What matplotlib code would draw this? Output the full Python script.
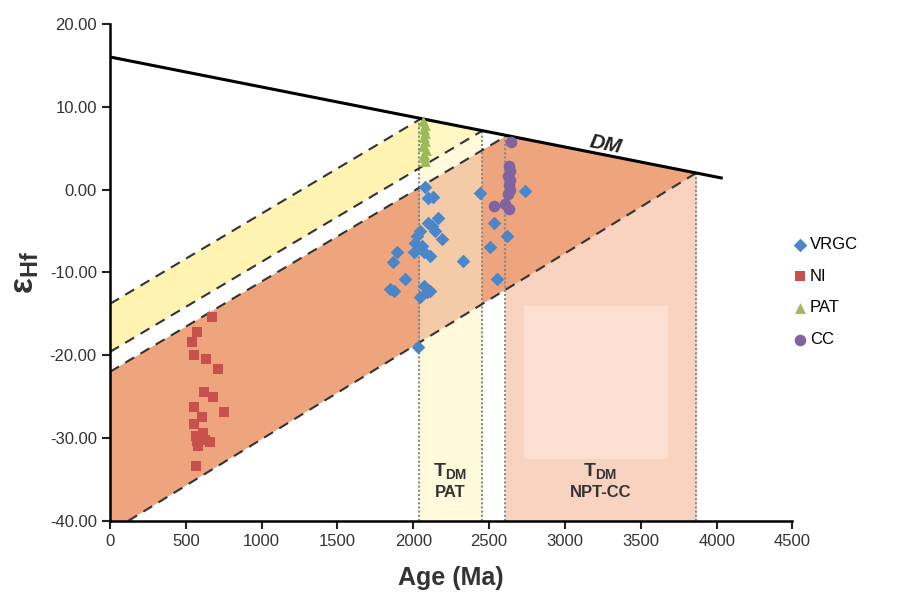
import numpy as np
import matplotlib
matplotlib.use("Agg")
import matplotlib.pyplot as plt

plt.rcParams['font.family'] = ['Liberation Sans', 'DejaVu Sans']
plt.rcParams['mathtext.fontset'] = 'custom'
plt.rcParams['mathtext.rm'] = 'Liberation Sans'
plt.rcParams['mathtext.bf'] = 'Liberation Sans:bold'

# depleted mantle line
dm_age = [0, 4030]
dm_ehf = [16.0, 1.4]

# band boundary lines (start point, end point on DM)
pat_upper = ([0, 2055], [-13.8, 8.6])
pat_lower = ([0, 2455], [-19.6, 7.1])
npt_upper = ([0, 2615], [-22.0, 6.5])
npt_lower = ([120, 3865], [-40.0, 2.0])

# T_DM strips (age ranges)
tdm_pat = [2040, 2450]
tdm_npt = [2605, 3865]
box_age = [2733, 3677]
box_ehf = [-32.5, -14.1]

# samples
ni_age = [671, 576, 543, 556, 634, 713, 622, 678, 556, 752, 605, 554, 616, 566, 572, 627, 660, 583, 568]
ni_ehf = [-15.4, -17.2, -18.4, -20.0, -20.5, -21.7, -24.5, -25.1, -26.2, -26.8, -27.4, -28.3, -29.4,
          -29.7, -30.3, -30.2, -30.5, -30.9, -33.4]

vrgc_age = [2075, 2097, 2130, 2442, 2735, 2160, 2097, 2123, 2046, 2145, 2189, 2024, 2013, 2057, 2002,
            2068, 2112, 1892, 1866, 2328, 1945, 1844, 1870, 2068, 2090, 2046, 2112, 2031, 2530, 2617,
            2503, 2552]
vrgc_ehf = [0.3, -1.0, -0.9, -0.4, -0.2, -3.4, -4.0, -4.4, -5.0, -5.0, -6.0, -5.6, -6.4, -6.8, -7.6,
            -7.6, -8.0, -7.6, -8.8, -8.6, -10.8, -12.0, -12.2, -11.6, -12.4, -13.0, -12.2, -19.0, -4.1,
            -5.6, -6.9, -10.8]

pat_age = [2065, 2075, 2068, 2080, 2070, 2078, 2066, 2082, 2072, 2070, 2076]
pat_ehf = [8.3, 7.8, 7.3, 6.8, 6.3, 5.8, 5.3, 4.8, 4.3, 3.9, 3.5]

cc_age = [2647, 2629, 2636, 2624, 2640, 2629, 2636, 2624, 2530, 2607, 2629]
cc_ehf = [5.7, 2.9, 2.2, 1.6, 1.2, 0.6, 0.0, -0.6, -2.0, -1.8, -2.3]

fig = plt.figure(figsize=(8.98, 5.96), dpi=100)
ax = fig.add_axes([0.1225, 0.126, 0.76, 0.834])


def dm(t):
    return np.interp(t, dm_age, dm_ehf)


# NPT-CC strip (below bands)
t = np.linspace(tdm_npt[0], tdm_npt[1], 50)
ax.fill_between(t, -40, dm(t), color='#F8D3C0', lw=0, zorder=1)
ax.fill_between(box_age, box_ehf[0], box_ehf[1], color='#FCDFD0', lw=0, zorder=1.5)

# yellow band
xs = list(pat_upper[0]) + [pat_lower[0][1], pat_lower[0][0]]
ys = list(pat_upper[1]) + [pat_lower[1][1], pat_lower[1][0]]
ax.fill(xs, ys, color='#FEF3B0', lw=0, zorder=2)

# orange band
xs = list(npt_upper[0]) + [npt_lower[0][1], npt_lower[0][0], 0]
ys = list(npt_upper[1]) + [npt_lower[1][1], npt_lower[1][0], -40]
ax.fill(xs, ys, color='#EEA47C', lw=0, zorder=2)

# PAT strip over bands
t = np.linspace(tdm_pat[0], tdm_pat[1], 50)
ax.fill_between(t, -40, dm(t), color='#FFFADB', alpha=0.45, lw=0, zorder=3)
ax.fill_between(t, -40, dm(t), color='#FFFADB', lw=0, zorder=1.8)

# dotted strip edges
for x in tdm_pat + tdm_npt:
    ax.plot([x, x], [-40, dm(x)], color='#8A8A8A', ls=(0, (1, 1)), lw=1.5, zorder=4)

# dashed band lines
for ln in [pat_upper, pat_lower, npt_upper, npt_lower]:
    ax.plot(ln[0], ln[1], color='#333333', ls=(0, (5, 3.5)), lw=1.5, zorder=4)

# DM line
ax.plot(dm_age, dm_ehf, color='black', lw=2.2, zorder=5)

ax.scatter(vrgc_age, vrgc_ehf, marker='D', s=48, color='#4A86C8', lw=0, zorder=6, label='VRGC')
ax.scatter(ni_age, ni_ehf, marker='s', s=58, color='#C8504D', lw=0, zorder=6, label='NI')
ax.scatter(pat_age, pat_ehf, marker='^', s=60, color='#9BBB59', lw=0, zorder=6, label='PAT')
ax.scatter(cc_age, cc_ehf, marker='o', s=70, color='#8064A2', lw=0, zorder=6, label='CC')

ax.text(3267, 5.4, 'DM', fontsize=15, fontweight='bold', style='italic', rotation=-11,
        ha='center', va='center', zorder=7, color='#222222')
ax.text(2245, -34.0, r'$\mathbf{T_{DM}}$', fontsize=14, ha='center', va='center', color='#333333')
ax.text(2245, -36.6, 'PAT', fontsize=12, fontweight='bold', ha='center', va='center', color='#333333')
ax.text(3234, -34.0, r'$\mathbf{T_{DM}}$', fontsize=14, ha='center', va='center', color='#333333')
ax.text(3234, -36.6, 'NPT-CC', fontsize=12, fontweight='bold', ha='center', va='center', color='#333333')

ax.set_xlim(0, 4500)
ax.set_ylim(-40, 20)
ax.set_xticks(np.arange(0, 4501, 500))
ax.set_yticks(np.arange(-40, 21, 10))
ax.set_yticklabels(['%.2f' % v for v in np.arange(-40, 21, 10)])
ax.tick_params(labelsize=12, width=1.5, length=6, colors='#222222', labelcolor='#333333')
ax.set_facecolor('none')
for s in ['top', 'right']:
    ax.spines[s].set_visible(False)
for s in ['left', 'bottom']:
    ax.spines[s].set_linewidth(1.8)
    ax.spines[s].set_zorder(8)

ax.set_xlabel('Age (Ma)', fontsize=18, fontweight='bold', color='#333333', labelpad=12)
ax.set_ylabel(r'$\mathbf{\varepsilon_{Hf}}$', fontsize=24, color='#333333', labelpad=6)

fig.legend(loc='center left', bbox_to_anchor=(0.872, 0.51), frameon=False, fontsize=12,
           handletextpad=0.0, handlelength=1.2, labelspacing=1.0, borderaxespad=0)

fig.savefig('out.png', dpi=100)
